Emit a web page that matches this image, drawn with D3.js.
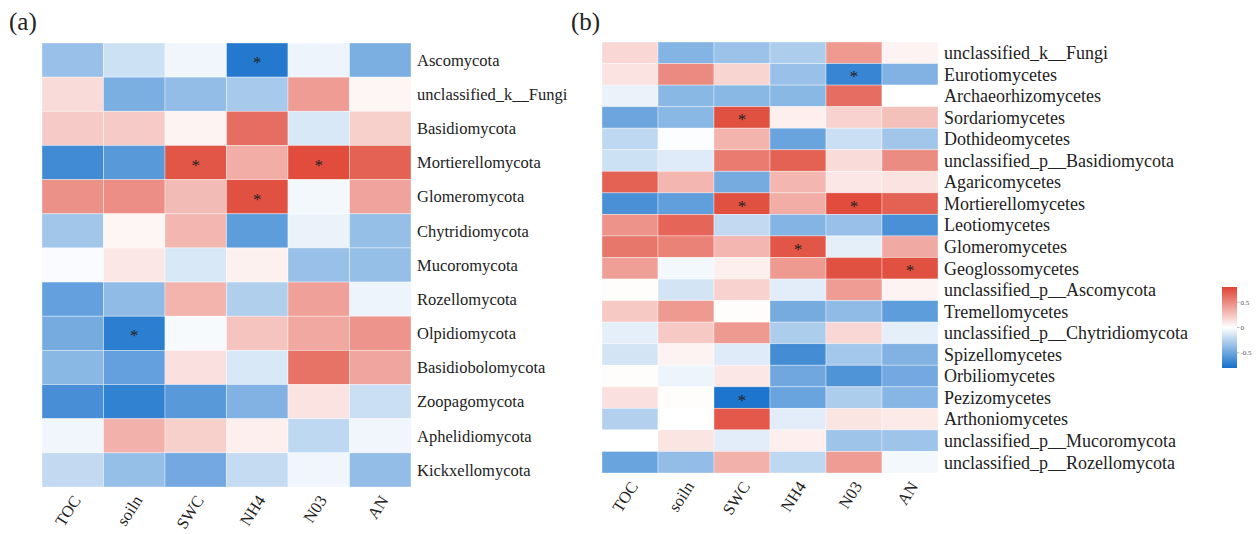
<!DOCTYPE html>
<html>
<head>
  <meta charset="UTF-8">
  <script src="https://d3js.org/d3.v7.min.js"></script>
  <style>
    body { margin: 0; background: #fff; }
    svg text { font-family: "Liberation Serif", "Times New Roman", serif; fill: #222; }
  </style>
</head>
<body>
<svg id="chart" width="1258" height="534"></svg>
<script>
  // environmental factors (columns)
  const factors = ["TOC", "soiln", "SWC", "NH4", "N03", "AN"];

  // panel (a): phylum level
  const phylaA = ["Ascomycota", "unclassified_k__Fungi", "Basidiomycota", "Mortierellomycota",
    "Glomeromycota", "Chytridiomycota", "Mucoromycota", "Rozellomycota", "Olpidiomycota",
    "Basidiobolomycota", "Zoopagomycota", "Aphelidiomycota", "Kickxellomycota"];
  const corrA = [
    [-0.35, -0.17, -0.05, -0.75, -0.06, -0.45],
    [ 0.15, -0.45, -0.37, -0.30,  0.42,  0.04],
    [ 0.22,  0.22,  0.05,  0.62, -0.13,  0.20],
    [-0.65, -0.57,  0.72,  0.35,  0.76,  0.67],
    [ 0.47,  0.48,  0.29,  0.74, -0.04,  0.39],
    [-0.32,  0.04,  0.31, -0.55, -0.07, -0.36],
    [-0.02,  0.10, -0.13,  0.06, -0.35, -0.36],
    [-0.53, -0.38,  0.32, -0.27,  0.40, -0.06],
    [-0.47, -0.72, -0.03,  0.25,  0.37,  0.45],
    [-0.40, -0.53,  0.13, -0.13,  0.60,  0.38],
    [-0.63, -0.70, -0.57, -0.43,  0.12, -0.18],
    [-0.05,  0.33,  0.20,  0.07, -0.22, -0.05],
    [-0.21, -0.36, -0.48, -0.20, -0.05, -0.37]
  ];
  const sigA = [
    ["", "", "", "*", "", ""],
    ["", "", "", "", "", ""],
    ["", "", "", "", "", ""],
    ["", "", "*", "", "*", ""],
    ["", "", "", "*", "", ""],
    ["", "", "", "", "", ""],
    ["", "", "", "", "", ""],
    ["", "", "", "", "", ""],
    ["", "*", "", "", "", ""],
    ["", "", "", "", "", ""],
    ["", "", "", "", "", ""],
    ["", "", "", "", "", ""],
    ["", "", "", "", "", ""]
  ];

  // panel (b): class level
  const classesB = ["unclassified_k__Fungi", "Eurotiomycetes", "Archaeorhizomycetes", "Sordariomycetes",
    "Dothideomycetes", "unclassified_p__Basidiomycota", "Agaricomycetes", "Mortierellomycetes",
    "Leotiomycetes", "Glomeromycetes", "Geoglossomycetes", "unclassified_p__Ascomycota",
    "Tremellomycetes", "unclassified_p__Chytridiomycota", "Spizellomycetes", "Orbiliomycetes",
    "Pezizomycetes", "Arthoniomycetes", "unclassified_p__Mucoromycota", "unclassified_p__Rozellomycota"];
  const corrB = [
    [ 0.17, -0.42, -0.34, -0.28,  0.43,  0.05],
    [ 0.12,  0.50,  0.18, -0.35, -0.68, -0.43],
    [-0.07, -0.40, -0.40, -0.40,  0.62,  0.00],
    [-0.50, -0.40,  0.74,  0.07,  0.19,  0.27],
    [-0.22, -0.01,  0.32, -0.51, -0.18, -0.32],
    [-0.17, -0.11,  0.56,  0.67,  0.15,  0.49],
    [ 0.67,  0.31, -0.47,  0.31,  0.10,  0.12],
    [-0.62, -0.54,  0.74,  0.35,  0.76,  0.67],
    [ 0.46,  0.65, -0.21, -0.42, -0.35, -0.62],
    [ 0.58,  0.53,  0.31,  0.72, -0.09,  0.36],
    [ 0.41, -0.04,  0.07,  0.43,  0.74,  0.74],
    [ 0.01, -0.15,  0.19, -0.10,  0.42,  0.05],
    [ 0.23,  0.43,  0.01, -0.47, -0.38, -0.55],
    [-0.09,  0.23,  0.43, -0.28,  0.17, -0.09],
    [-0.15,  0.05, -0.11, -0.64, -0.31, -0.43],
    [ 0.01, -0.06,  0.10, -0.49, -0.60, -0.48],
    [ 0.13,  0.01, -0.77, -0.51, -0.28, -0.41],
    [-0.26,  0.00,  0.71, -0.10,  0.11,  0.09],
    [ 0.00,  0.11, -0.10,  0.07, -0.33, -0.33],
    [-0.51, -0.37,  0.33, -0.22,  0.42, -0.04]
  ];
  const sigB = [
    ["", "", "", "", "", ""],
    ["", "", "", "", "*", ""],
    ["", "", "", "", "", ""],
    ["", "", "*", "", "", ""],
    ["", "", "", "", "", ""],
    ["", "", "", "", "", ""],
    ["", "", "", "", "", ""],
    ["", "", "*", "", "*", ""],
    ["", "", "", "", "", ""],
    ["", "", "", "*", "", ""],
    ["", "", "", "", "", "*"],
    ["", "", "", "", "", ""],
    ["", "", "", "", "", ""],
    ["", "", "", "", "", ""],
    ["", "", "", "", "", ""],
    ["", "", "", "", "", ""],
    ["", "", "*", "", "", ""],
    ["", "", "", "", "", ""],
    ["", "", "", "", "", ""],
    ["", "", "", "", "", ""]
  ];

  const legendTicks = [0.5, 0, -0.5];

  const color = d3.scaleLinear()
    .domain([-0.8, 0, 0.8])
    .range(["#1570cb", "#ffffff", "#df4333"])
    .clamp(true);

  const svg = d3.select("#chart");

  function heatmap(cfg) {
    const g = svg.append("g");
    const x = d3.scaleBand().domain(factors).range([cfg.x0, cfg.x1]);
    const y = d3.scaleBand().domain(cfg.rows).range([cfg.y0, cfg.y1]);

    const cells = [];
    cfg.rows.forEach((r, i) => factors.forEach((f, j) => {
      cells.push({ row: r, col: f, v: cfg.values[i][j], s: cfg.sig[i][j] });
    }));

    g.selectAll("rect.cell").data(cells).enter().append("rect")
      .attr("class", "cell")
      .attr("x", d => x(d.col))
      .attr("y", d => y(d.row))
      .attr("width", x.bandwidth())
      .attr("height", y.bandwidth())
      .attr("fill", d => color(d.v))
      .attr("stroke", "rgba(255,255,255,0.45)")
      .attr("stroke-width", 0.8);

    g.selectAll("text.sig").data(cells.filter(d => d.s)).enter().append("text")
      .attr("class", "sig")
      .attr("x", d => x(d.col) + x.bandwidth() / 2)
      .attr("y", d => y(d.row) + y.bandwidth() / 2 + 8)
      .attr("text-anchor", "middle")
      .style("font-size", "17px")
      .text(d => d.s);

    // row labels on the right
    g.selectAll("text.row").data(cfg.rows).enter().append("text")
      .attr("class", "row")
      .attr("x", cfg.x1 + 6)
      .attr("y", d => y(d) + y.bandwidth() / 2)
      .attr("dy", "0.35em")
      .style("font-size", cfg.fs + "px")
      .text(d => d);

    // rotated column labels
    g.selectAll("text.col").data(factors).enter().append("text")
      .attr("class", "col")
      .attr("transform", d => `translate(${x(d) + x.bandwidth() / 2 + 4},${cfg.y1 + 10}) rotate(-57)`)
      .attr("text-anchor", "end")
      .attr("dy", "0.35em")
      .style("font-size", "16.5px")
      .text(d => d);

    svg.append("text")
      .attr("x", cfg.tagX).attr("y", 30)
      .style("font-size", "25px")
      .text(cfg.tag);
  }

  heatmap({ rows: phylaA, values: corrA, sig: sigA, x0: 42, x1: 411, y0: 43, y1: 487, fs: 16.5, tag: "(a)", tagX: 9 });
  heatmap({ rows: classesB, values: corrB, sig: sigB, x0: 602, x1: 938, y0: 42, y1: 473, fs: 18, tag: "(b)", tagX: 571 });

  // colour legend
  const ly = d3.scaleLinear().domain([0.8, -0.8]).range([287, 368]);
  const defs = svg.append("defs");
  const grad = defs.append("linearGradient").attr("id", "lg").attr("x1", 0).attr("y1", 0).attr("x2", 0).attr("y2", 1);
  d3.range(0, 1.0001, 0.1).forEach(t => {
    grad.append("stop").attr("offset", t).attr("stop-color", color(0.8 - 1.6 * t));
  });
  svg.append("rect").attr("x", 1222).attr("y", ly(0.8)).attr("width", 15)
    .attr("height", ly(-0.8) - ly(0.8)).attr("fill", "url(#lg)");
  const lt = svg.append("g");
  lt.selectAll("line").data(legendTicks).enter().append("line")
    .attr("x1", 1237).attr("x2", 1239.5)
    .attr("y1", d => ly(d)).attr("y2", d => ly(d))
    .attr("stroke", "#888").attr("stroke-width", 0.6);
  lt.selectAll("text").data(legendTicks).enter().append("text")
    .attr("x", 1240.5).attr("y", d => ly(d)).attr("dy", "0.35em")
    .style("font-size", "7px").style("fill", "#555")
    .text(d => d);
</script>
</body>
</html>
